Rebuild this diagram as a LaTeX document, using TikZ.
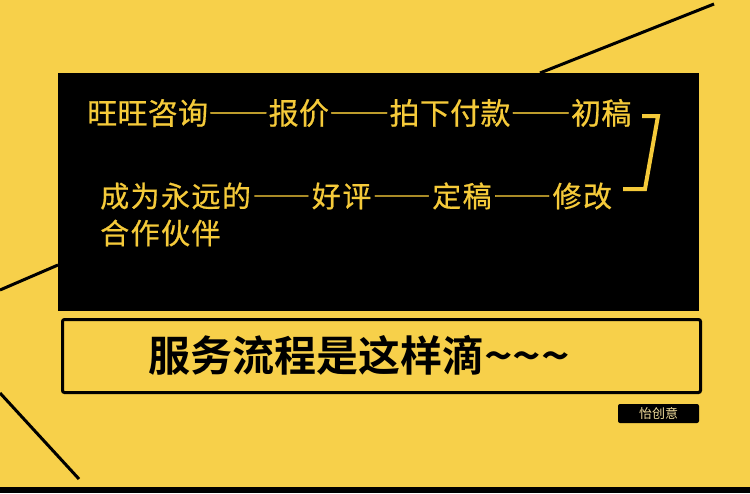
\documentclass[tikz,border=0pt]{standalone}
\usepackage{fontspec}
\setmainfont{Noto Sans CJK SC}[BoldFont={Noto Sans CJK SC Bold}]
\newfontfamily\cjk{Noto Sans CJK SC}[CharacterWidth=Full, FakeBold=0.6]
\newfontfamily\cjkplain{Noto Sans CJK SC}
\newfontfamily\cjkb{Noto Sans CJK SC Bold}
\definecolor{bgyellow}{HTML}{F7D04A}
\definecolor{txtyellow}{HTML}{F5CA3A}
\definecolor{tagtext}{HTML}{F0DC9A}
\tikzset{
  thinline/.style={line width=3pt, black},
  ytext/.style={anchor=west, inner sep=0pt, text=txtyellow, font=\cjk\fontsize{29}{32}\selectfont},
}
\begin{document}
\begin{tikzpicture}[x=1pt,y=-1pt]
\useasboundingbox (0,0) rectangle (750,493);
\fill[bgyellow] (0,0) rectangle (750,493);
\fill[black] (0,487) rectangle (750,493);
% diagonal lines
\coordinate (tl1) at (540,73);
\coordinate (tl2) at (714,4);
\draw[thinline] (tl1) -- (tl2);
\coordinate (ll1) at (0,290);
\coordinate (ll2) at (58,265);
\draw[thinline] (ll1) -- (ll2);
\coordinate (bl1) at (0,393);
\coordinate (bl2) at (79,479);
\draw[thinline] (bl1) -- (bl2);
% black panel
\node[fill=black, inner sep=0pt, minimum width=641pt, minimum height=238pt, anchor=north west] (panel) at (58,73) {};
% texts
\node[ytext, font=\cjk\fontsize{30}{32}\selectfont\addfontfeature{LetterSpace=1}] (l1) at (87,113) {旺旺咨询——报价——拍下付款——初稿};
\node[ytext, font=\cjk\fontsize{29}{32}\selectfont\addfontfeature{LetterSpace=5}] (l2) at (100,196) {成为永远的——好评——定稿——修改};
\node[ytext, font=\cjk\fontsize{29}{32}\selectfont\addfontfeature{LetterSpace=5}] (l3) at (100,233) {合作伙伴};
% bracket
\draw[txtyellow, line width=4pt] (642,116) -- (658,116) -- (645,189) -- (623,189);
% outlined box
\node[draw=black, line width=3pt, rounded corners=2pt, fill=bgyellow, inner sep=0pt, minimum width=638pt, minimum height=73pt, anchor=north west] (box) at (61,318) {};
\node[inner sep=0pt, font=\cjkb\fontsize{42}{44}\selectfont, anchor=west] (title) at (148,355) {服务流程是这样滴\scalebox{1.15}[1]{\textasciitilde\textasciitilde\textasciitilde}};
% small tag
\node[fill=black, rounded corners=2pt, minimum width=81pt, minimum height=19pt, inner sep=0pt, text=tagtext, font=\cjkplain\fontsize{13}{14}\selectfont] (tag) at (658.5,413.5) {怡创意};
\end{tikzpicture}
\end{document}
